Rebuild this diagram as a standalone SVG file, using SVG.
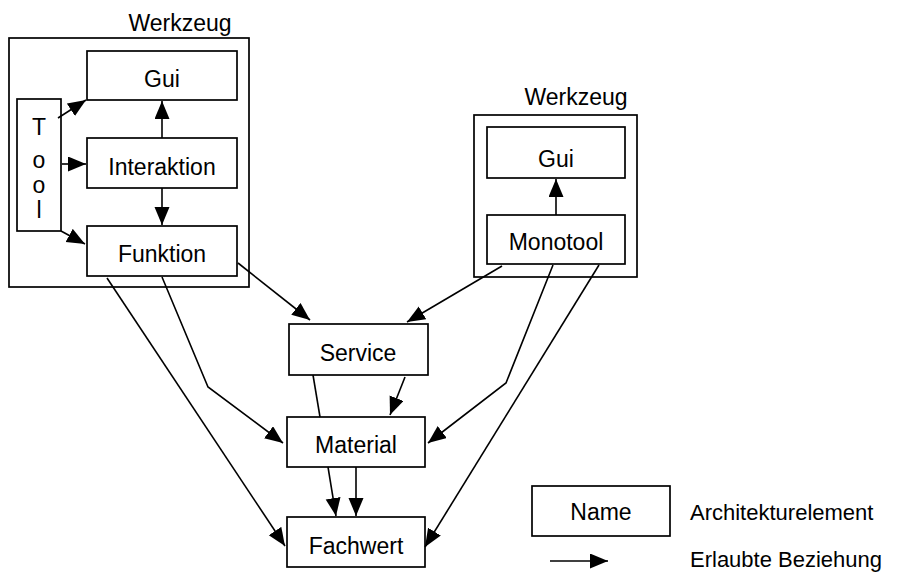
<svg xmlns="http://www.w3.org/2000/svg" width="902" height="574" viewBox="0 0 902 574">
<defs>
<marker id="ah" markerUnits="userSpaceOnUse" markerWidth="19" markerHeight="16" refX="18" refY="7.5" orient="auto">
<path d="M0,0 L18,7.5 L0,15 z" fill="#000"/>
</marker>
<style>
.box{fill:#fff;stroke:#000;stroke-width:1.7}
.frame{fill:none;stroke:#000;stroke-width:1.7}
text{font-family:"Liberation Sans",Arial,sans-serif;font-size:23px;fill:#000}
.lg{font-size:22px}
.c{text-anchor:middle}
.ln{fill:none;stroke:#000;stroke-width:1.6}
.ar{fill:none;stroke:#000;stroke-width:1.6;marker-end:url(#ah)}
</style>
</defs>
<rect width="902" height="574" fill="#fff"/>
<g id="werkzeug1">
<rect class="frame" x="9" y="38" width="240" height="249"/>
<text class="c" x="180" y="31">Werkzeug</text>
</g>
<g id="werkzeug2">
<rect class="frame" x="474" y="115" width="163" height="162"/>
<text class="c" x="576" y="105">Werkzeug</text>
</g>
<g id="gui1"><rect class="box" x="87" y="51" width="150" height="49"/><text class="c" x="162" y="87">Gui</text></g>
<g id="interaktion"><rect class="box" x="87" y="138" width="150" height="50"/><text class="c" x="162" y="175">Interaktion</text></g>
<g id="funktion"><rect class="box" x="87" y="226" width="150" height="50"/><text class="c" x="162" y="262">Funktion</text></g>
<g id="tool"><rect class="box" x="17" y="99" width="44" height="132"/>
<text class="c" x="39" y="135">T</text><text class="c" x="39" y="168">o</text><text class="c" x="39" y="193">o</text><text class="c" x="39" y="218">l</text></g>
<g id="gui2"><rect class="box" x="487" y="127" width="138" height="51"/><text class="c" x="556" y="167">Gui</text></g>
<g id="monotool"><rect class="box" x="487" y="215" width="138" height="49"/><text class="c" x="556" y="250">Monotool</text></g>
<g id="service"><rect class="box" x="289" y="324" width="139" height="51"/><text class="c" x="358" y="361">Service</text></g>
<g id="material"><rect class="box" x="287" y="417" width="138" height="50"/><text class="c" x="356" y="453">Material</text></g>
<g id="fachwert"><rect class="box" x="287" y="517" width="138" height="50"/><text class="c" x="356" y="554">Fachwert</text></g>
<g id="legend">
<rect class="box" x="532" y="486" width="138" height="50"/><text class="c" x="601" y="520">Name</text>
<text class="lg" x="690" y="520">Architekturelement</text>
<line class="ar" x1="550" y1="561" x2="608" y2="561"/>
<text class="lg" x="690" y="567">Erlaubte Beziehung</text>
</g>
<g id="connectors">
<line class="ar" x1="58" y1="118" x2="86" y2="100"/>
<line class="ar" x1="62" y1="164" x2="86" y2="164"/>
<line class="ar" x1="61" y1="231" x2="85" y2="244"/>
<line class="ar" x1="162" y1="138" x2="162" y2="101"/>
<line class="ar" x1="162" y1="188" x2="162" y2="225"/>
<line class="ar" x1="556" y1="215" x2="556" y2="179"/>
<line class="ar" x1="238" y1="263" x2="310" y2="320"/>
<polyline class="ar" points="162,277 208,387 283,443"/>
<line class="ar" x1="107" y1="278" x2="285" y2="546"/>
<line class="ln" x1="313" y1="375" x2="320" y2="417"/>
<line class="ar" x1="405" y1="377" x2="390" y2="415"/>
<line class="ar" x1="328" y1="467" x2="336" y2="516"/>
<line class="ar" x1="356" y1="467" x2="356" y2="516"/>
<line class="ar" x1="502" y1="266" x2="407" y2="322"/>
<polyline class="ar" points="553,265 506,383 428,443"/>
<line class="ar" x1="599" y1="265" x2="425" y2="547"/>
</g>
</svg>
